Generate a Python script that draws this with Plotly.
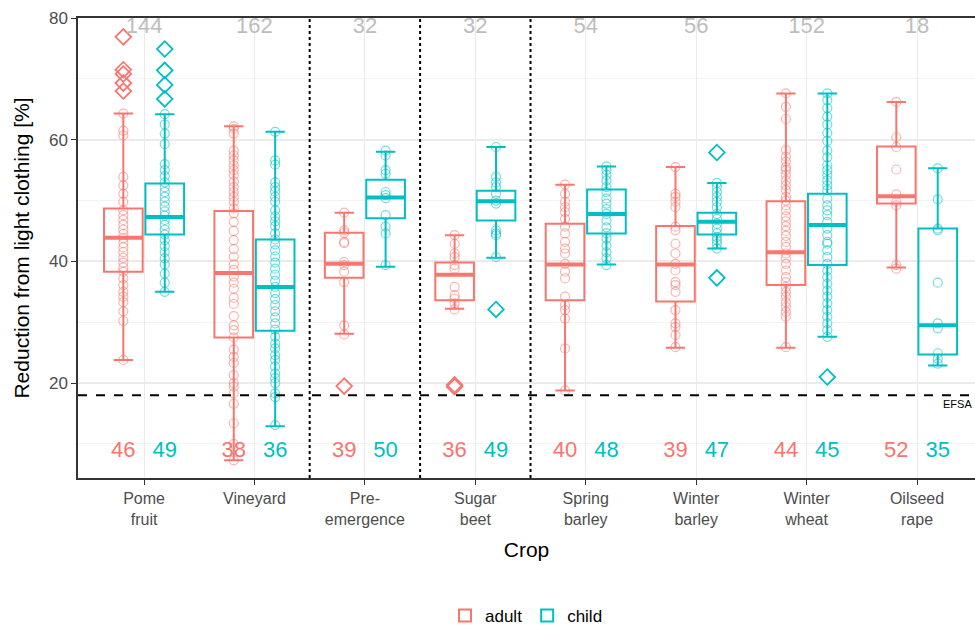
import plotly.graph_objects as go

crops = ["Pome<br>fruit", "Vineyard", "Pre-<br>emergence", "Sugar<br>beet", "Spring<br>barley",
         "Winter<br>barley", "Winter<br>wheat", "Oilseed<br>rape"]
counts = [144, 162, 32, 32, 54, 56, 152, 18]
label_adult = [46, 38, 39, 36, 40, 39, 44, 52]
label_child = [49, 36, 50, 49, 48, 47, 45, 35]

# box statistics
adult_q1 = [38.3, 27.5, 37.3, 33.6, 33.6, 33.4, 36.1, 49.5]
adult_med = [43.9, 38.1, 39.6, 37.8, 39.5, 39.5, 41.5, 50.7]
adult_q3 = [48.7, 48.3, 44.7, 39.8, 46.2, 45.8, 49.9, 58.9]
adult_lo = [23.8, 7.3, 28.1, 32.2, 18.8, 25.8, 25.8, 39.0]
adult_hi = [64.3, 62.2, 48.0, 44.3, 52.6, 55.5, 67.6, 66.2]

child_q1 = [44.4, 28.6, 47.1, 46.7, 44.6, 44.4, 39.4, 24.7]
child_med = [47.3, 35.8, 50.5, 49.9, 47.8, 46.5, 46.0, 29.5]
child_q3 = [52.8, 43.6, 53.4, 51.6, 51.8, 48.0, 51.1, 45.4]
child_lo = [35.0, 12.9, 39.1, 40.6, 39.5, 42.1, 27.6, 22.9]
child_hi = [64.2, 61.3, 58.0, 58.8, 55.6, 52.9, 67.6, 55.3]

# outliers
adult_out = [[76.9, 71.5, 70.8, 69.3, 68.0], [], [19.5], [19.4, 19.7], [], [], [], []]
child_out = [[74.9, 71.4, 69.0, 66.7], [], [], [32.1], [], [57.9, 37.3], [21.0], []]

# individual observations (visible circles)
adult_pts = [
    [64.3, 61.5, 60.7, 53.9, 52.5, 51.1, 49.8, 48.4, 47.6, 46.8, 46.0, 45.2, 44.5, 43.8, 43.0,
     42.3, 41.5, 40.6, 39.8, 39.0, 38.3, 37.2, 36.1, 35.0, 34.2, 33.3, 31.8, 30.2, 23.8],
    [62.2, 61.8, 61.0, 58.2, 57.4, 56.6, 55.8, 55.0, 54.2, 53.1, 52.2, 51.4, 50.6, 49.8, 48.7,
     47.9, 46.5, 45.0, 43.5, 42.0, 40.8, 39.5, 38.6, 37.5, 36.5, 35.5, 34.0, 33.0, 31.0, 29.5,
     28.7, 27.5, 25.5, 24.3, 23.3, 21.3, 20.0, 19.4, 18.3, 16.6, 13.4, 10.0, 7.3],
    [48.0, 45.1, 44.7, 43.2, 43.0, 39.9, 39.4, 38.3, 36.6, 29.5, 28.0],
    [44.3, 42.9, 41.3, 40.7, 39.4, 38.8, 35.8, 34.4, 33.9, 33.1, 32.1],
    [52.6, 51.1, 49.8, 48.9, 48.1, 47.0, 45.7, 44.6, 43.2, 42.1, 41.3, 39.6, 38.3, 37.2, 34.2,
     32.8, 32.0, 30.6, 25.7, 18.8],
    [55.5, 51.1, 50.6, 49.8, 48.9, 45.7, 45.1, 42.9, 41.3, 39.6, 38.5, 36.6, 36.1, 35.0, 32.0,
     29.8, 29.2, 27.9, 25.9],
    [67.6, 65.4, 63.4, 58.3, 57.2, 56.4, 55.5, 55.0, 54.2, 53.3, 52.5, 51.7, 50.6, 50.0, 49.2,
     48.4, 47.4, 46.6, 45.8, 45.0, 44.2, 43.2, 42.4, 41.3, 40.5, 39.6, 38.5, 37.4, 36.6, 35.8,
     35.0, 34.2, 33.3, 32.5, 31.7, 30.9, 25.9],
    [66.2, 60.4, 58.8, 55.1, 51.0, 49.8, 49.2, 39.4, 38.8],
]
child_pts = [
    [64.2, 62.5, 61.0, 59.3, 56.0, 55.0, 54.0, 53.0, 52.2, 51.4, 50.6, 49.8, 49.0, 48.2, 47.5,
     46.8, 46.0, 45.2, 44.4, 43.5, 42.5, 41.5, 40.5, 39.5, 38.0, 36.5, 35.0],
    [61.3, 56.6, 55.9, 53.0, 52.2, 51.5, 50.6, 49.8, 48.4, 47.4, 46.6, 45.8, 44.6, 43.6, 42.8,
     41.8, 40.8, 39.8, 38.8, 37.8, 36.8, 35.8, 34.8, 33.8, 32.8, 31.8, 30.8, 29.8, 28.8, 27.6,
     26.5, 25.7, 24.6, 23.8, 22.7, 21.6, 20.8, 20.0, 18.3, 17.7, 13.1],
    [58.2, 57.4, 55.0, 54.4, 51.4, 50.9, 50.4, 47.6, 45.7, 44.6, 39.4],
    [58.8, 53.9, 53.0, 52.2, 51.1, 50.0, 49.5, 45.1, 44.3, 44.6, 40.7],
    [55.6, 55.0, 54.2, 53.3, 52.2, 51.4, 50.3, 49.5, 48.6, 47.8, 46.7, 45.6, 44.6, 43.7, 42.6,
     41.5, 40.5, 39.4],
    [52.9, 52.2, 51.4, 50.6, 49.8, 48.9, 47.8, 47.0, 46.2, 45.4, 44.6, 44.0, 43.5, 42.9, 42.1],
    [67.6, 66.5, 65.2, 63.8, 62.5, 61.1, 59.8, 58.2, 57.1, 55.8, 55.0, 54.2, 53.3, 52.5, 51.7,
     50.3, 49.2, 48.4, 47.6, 46.5, 45.4, 44.3, 43.2, 42.9, 41.8, 40.7, 39.6, 38.5, 37.4, 36.3,
     35.2, 34.2, 33.1, 32.0, 30.9, 29.8, 28.7, 27.6],
    [55.3, 50.2, 45.4, 45.1, 36.5, 29.8, 29.0, 24.9, 24.0, 23.2],
]

efsa_value = 18
separators = [2.5, 3.5, 4.5]
count_y = 78.4
label_y = 8.7

RED = "#F8766D"
TEAL = "#00BFC4"
DODGE = 0.1875
BOXW = 0.35

cat_pos = list(range(1, len(crops) + 1))
xa = [c - DODGE for c in cat_pos]
xc = [c + DODGE for c in cat_pos]

fig = go.Figure()


def add_group(name, color, xs, q1, med, q3, lo, hi, pts, outs, fade):
    px, py = [], []
    for x, vals in zip(xs, pts):
        px += [x] * len(vals)
        py += vals
    fig.add_trace(go.Scatter(x=px, y=py, mode="markers", showlegend=False, hoverinfo="y",
                             marker=dict(symbol="circle-open", size=9, color=fade,
                                         line=dict(width=1.2, color=fade))))
    fig.add_trace(go.Box(x=xs, q1=q1, median=med, q3=q3, lowerfence=lo, upperfence=hi,
                         name=name, width=BOXW, boxpoints=False,
                         line=dict(color=color, width=2), fillcolor="rgba(255,255,255,0)"))
    mx, my = [], []
    for x, m in zip(xs, med):
        mx += [x - BOXW / 2, x + BOXW / 2, None]
        my += [m, m, None]
    fig.add_trace(go.Scatter(x=mx, y=my, mode="lines", showlegend=False, hoverinfo="skip",
                             line=dict(color=color, width=4)))
    ox, oy = [], []
    for x, vals in zip(xs, outs):
        ox += [x] * len(vals)
        oy += vals
    fig.add_trace(go.Scatter(x=ox, y=oy, mode="markers", showlegend=False, hoverinfo="y",
                             marker=dict(symbol="diamond-open", size=12, color=color,
                                         line=dict(width=1.8, color=color))))


add_group("adult", RED, xa, adult_q1, adult_med, adult_q3, adult_lo, adult_hi,
          adult_pts, adult_out, "rgba(248,118,109,0.55)")
add_group("child", TEAL, xc, child_q1, child_med, child_q3, child_lo, child_hi,
          child_pts, child_out, "rgba(0,191,196,0.55)")

fig.add_trace(go.Scatter(x=cat_pos, y=[count_y] * len(counts), mode="text",
                         text=[str(c) for c in counts], showlegend=False, hoverinfo="skip",
                         textfont=dict(size=22, color="#BDBDBD"), cliponaxis=False))
fig.add_trace(go.Scatter(x=xa, y=[label_y] * len(label_adult), mode="text",
                         text=[str(v) for v in label_adult], showlegend=False, hoverinfo="skip",
                         textfont=dict(size=22, color=RED)))
fig.add_trace(go.Scatter(x=xc, y=[label_y] * len(label_child), mode="text",
                         text=[str(v) for v in label_child], showlegend=False, hoverinfo="skip",
                         textfont=dict(size=22, color=TEAL)))

shapes = [dict(type="line", xref="paper", yref="y", x0=0, x1=1, y0=efsa_value, y1=efsa_value,
               line=dict(color="black", width=2, dash="dash"))]
for s in separators:
    shapes.append(dict(type="line", xref="x", yref="paper", x0=s, x1=s, y0=0, y1=1,
                       line=dict(color="black", width=2, dash="dot")))

fig.add_annotation(x=8.235, y=efsa_value, xref="x", yref="y", text="EFSA", showarrow=False,
                   xanchor="left", yanchor="top", yshift=-1, xshift=-2,
                   font=dict(size=11, color="black"))

fig.update_layout(
    width=975, height=632,
    margin=dict(l=78, r=0, t=18, b=154, autoexpand=False),
    paper_bgcolor="white", plot_bgcolor="white",
    font=dict(family="Liberation Sans, Arial, sans-serif", color="#4D4D4D"),
    shapes=shapes,
    showlegend=True,
    legend=dict(orientation="h", x=0.5, xanchor="center", y=-0.3, yanchor="middle",
                font=dict(size=17, color="black")),
    xaxis=dict(range=[0.402, 8.525], tickvals=cat_pos, ticktext=crops, automargin=False,
               showgrid=True, gridcolor="#EBEBEB", gridwidth=1.2, zeroline=False,
               showline=True, linecolor="#333333", linewidth=1.5, mirror=True,
               ticks="outside", ticklen=5, tickcolor="#333333",
               tickfont=dict(size=16, color="#4D4D4D"),
               title=dict(text="Crop", font=dict(size=21, color="black"), standoff=16)),
    yaxis=dict(range=[4.4, 80], tickvals=[20, 40, 60, 80], showgrid=True, gridcolor="#EBEBEB",
               gridwidth=1.5, zeroline=False, showline=True, linecolor="#333333", linewidth=1.5,
               automargin=False,
               ticks="outside", ticklen=5, tickcolor="#333333",
               tickfont=dict(size=17, color="#4D4D4D"),
               minor=dict(tickvals=[10, 30, 50, 70], showgrid=True, gridcolor="#F3F3F3",
                          gridwidth=1),
               title=dict(text="Reduction from light clothing [%]",
                          font=dict(size=21, color="black"), standoff=14)),
)

fig.write_html("out.html", config={"displayModeBar": False},
               post_script="document.body.style.margin='0';document.body.style.overflow='hidden';")
